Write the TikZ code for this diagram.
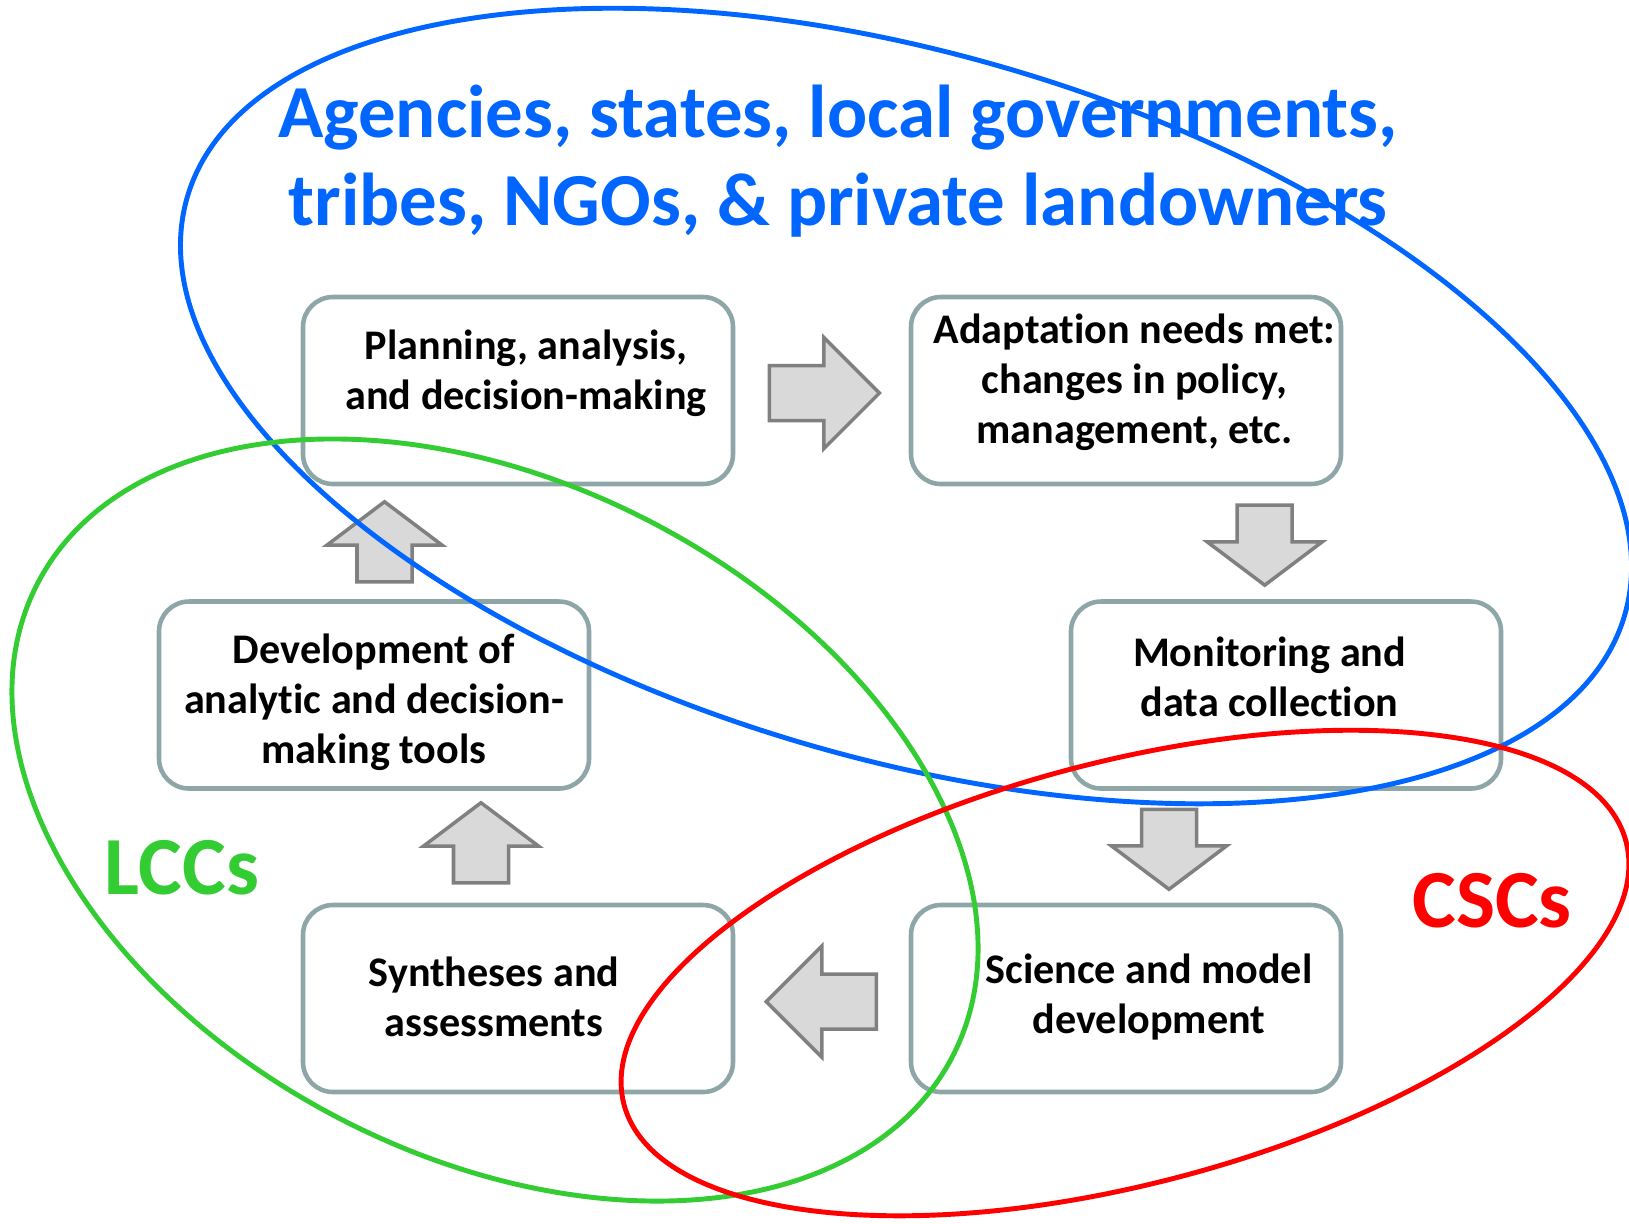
\documentclass[tikz,border=0pt]{standalone}
\usepackage{fontspec}
\setmainfont{Carlito}[Ligatures=NoCommon]
\usepackage{tikz}
\usetikzlibrary{shapes,shapes.arrows,positioning}
\usepackage{xcolor}

\definecolor{boxline}{HTML}{8FA6A8}
\definecolor{arrowfill}{HTML}{D9D9D9}
\definecolor{arrowline}{HTML}{808080}
\definecolor{titleblue}{HTML}{0066FF}
\definecolor{lccgreen}{HTML}{33CC33}
\definecolor{cscred}{HTML}{FF0000}

\begin{document}
\begin{tikzpicture}[
    box/.style={draw=boxline, line width=1.3pt, rounded corners=0.3cm, minimum width=4.30cm, minimum height=1.87cm},
    boxtext/.style={align=center, font=\fontsize{12}{14.2}\selectfont\bfseries},
    flatarrow/.style={single arrow, draw=arrowline, fill=arrowfill, line width=1pt, inner xsep=0pt, inner ysep=0.2575cm, minimum height=1.10cm, single arrow head extend=0.28cm, single arrow tip angle=90, anchor=tail},
    tallarrow/.style={flatarrow, minimum height=0.80cm, single arrow head extend=0.30cm, single arrow tip angle=106},
    setring/.style={ellipse, line width=1.4pt, inner sep=0pt},
    bigword/.style={font=\fontsize{23.5}{27}\selectfont\bfseries}
]
    \useasboundingbox (0,0) rectangle (16.29,-12.23);

    % the six steps of the cycle
    \node[box] (plan) at (5.18,-3.905) {};
    \node[box] (adapt) at (11.26,-3.905) {};
    \node[box] (monit) at (12.86,-6.95) {};
    \node[box] (sci) at (11.26,-9.985) {};
    \node[box] (synth) at (5.18,-9.985) {};
    \node[box] (dev) at (3.74,-6.95) {};

    \node[boxtext] (plantext) at (5.26,-3.73) {Planning, analysis,\\and decision-making};
    \node[boxtext] (adapttext) at (11.345,-3.825) {Adaptation needs met:\\changes in policy,\\management, etc.};
    \node[boxtext] (monittext) at (12.695,-6.767) {Monitoring and\\data collection};
    \node[boxtext] (scitext) at (11.49,-9.97) {Science and model\\development};
    \node[boxtext] (synthtext) at (4.94,-9.97) {Syntheses and\\assessments};
    \node[boxtext] (devtext) at (3.74,-7.023) {Development of\\analytic and decision-\\making tools};

    % block arrows between the steps (placed by their tails)
    \node[flatarrow] (toadapt) at (7.677,-3.93) {};
    \node[tallarrow, rotate=-90] (tomonit) at (12.647,-5.034) {};
    \node[tallarrow, rotate=-90] (tosci) at (11.69,-8.075) {};
    \node[flatarrow, rotate=180] (tosynth) at (8.78,-10.015) {};
    \node[tallarrow, rotate=90] (todev) at (4.81,-8.845) {};
    \node[tallarrow, rotate=90] (toplan) at (3.845,-5.835) {};

    % who does what
    \node[align=center, text=titleblue, font=\fontsize{21.3}{25}\selectfont\bfseries] (title) at (8.38,-1.61) {Agencies, states, local governments,\\tribes, NGOs, \& private landowners};
    \node[bigword, text=lccgreen] (lcc) at (1.82,-8.68) {LCCs};
    \node[bigword, text=cscred] (csc) at (14.92,-9.01) {CSCs};

    \node[setring, draw=titleblue, minimum width=14.97cm, minimum height=7.05cm, rotate=-16.2] (agencyring) at (9.06,-4.06) {};
    \node[setring, draw=lccgreen, minimum width=10.30cm, minimum height=6.73cm, rotate=-27.3] (lccring) at (4.95,-8.20) {};
    \node[setring, draw=cscred, minimum width=10.36cm, minimum height=4.22cm, rotate=14.7] (cscring) at (11.25,-9.73) {};
\end{tikzpicture}
\end{document}
